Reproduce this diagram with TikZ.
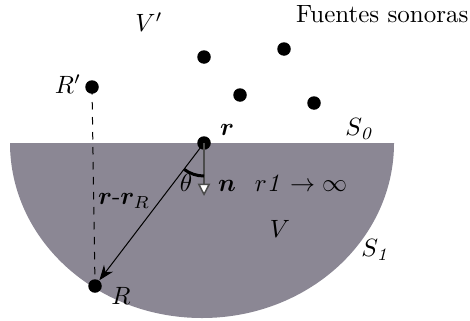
\documentclass[tikz,border=0pt]{standalone}
\usepackage{amsmath}
\usepackage{bm}
\usepackage{xcolor}
\usetikzlibrary{arrows.meta}
\definecolor{medio}{RGB}{139,135,148}
\tikzset{
  punto/.style={circle,fill=black,inner sep=0pt,minimum size=5.4pt},
  etiqueta/.style={inner sep=0pt}
}

\begin{document}
\begin{tikzpicture}[x=0.4pt,y=-0.4pt]
\useasboundingbox (0,0) rectangle (470,320);
% half space V
\fill[medio] (10,143) arc[start angle=180,end angle=0,x radius=192,y radius=175] -- cycle;
% points
\node[punto] (Rp) at (92,87) {};
\node[punto] (R) at (95,286) {};
\node[punto] (r) at (204,143) {};
\node[punto] (f1) at (204,57) {};
\node[punto] (f2) at (284,49) {};
\node[punto] (f3) at (240,95) {};
\node[punto] (f4) at (314,103) {};
\coordinate (n) at (204,196);
% connectors
\draw[dashed,thin] (Rp.center) -- (R.center);
\draw[-{Stealth[length=6pt,width=4.5pt]}] (r.center) -- (R);
\draw[black!70,semithick,-{Triangle[open,fill=white,length=5pt,width=5pt]}] (r.center) -- (n);
\draw[very thick] (r.center) ++(127:33) arc[start angle=127,end angle=90,radius=33];
% labels
\node[etiqueta] (vp) at (149,22) {$V'$};
\node[etiqueta,anchor=east] (fuentes) at (469,14) {Fuentes sonoras};
\node[etiqueta] (lRp) at (68,84) {$R'$};
\node[etiqueta] (lr) at (227,130) {$\bm{r}$};
\node[etiqueta] (s0) at (360,129) {$S_{\mathit{0}}$};
\node[etiqueta] (theta) at (186,183) {$\theta$};
\node[etiqueta] (ln) at (227,186) {$\bm{n}$};
\node[etiqueta] (inf) at (301,183) {$r\mathit{1} \rightarrow \infty$};
\node[etiqueta] (v) at (280,229) {$V$};
\node[etiqueta] (s1) at (376,250) {$S_{\mathit{1}}$};
\node[etiqueta] (dif) at (124,201) {$\bm{r}\text{-}\bm{r}_{R}$};
\node[etiqueta] (lR) at (121,296) {$R$};
\end{tikzpicture}
\end{document}
